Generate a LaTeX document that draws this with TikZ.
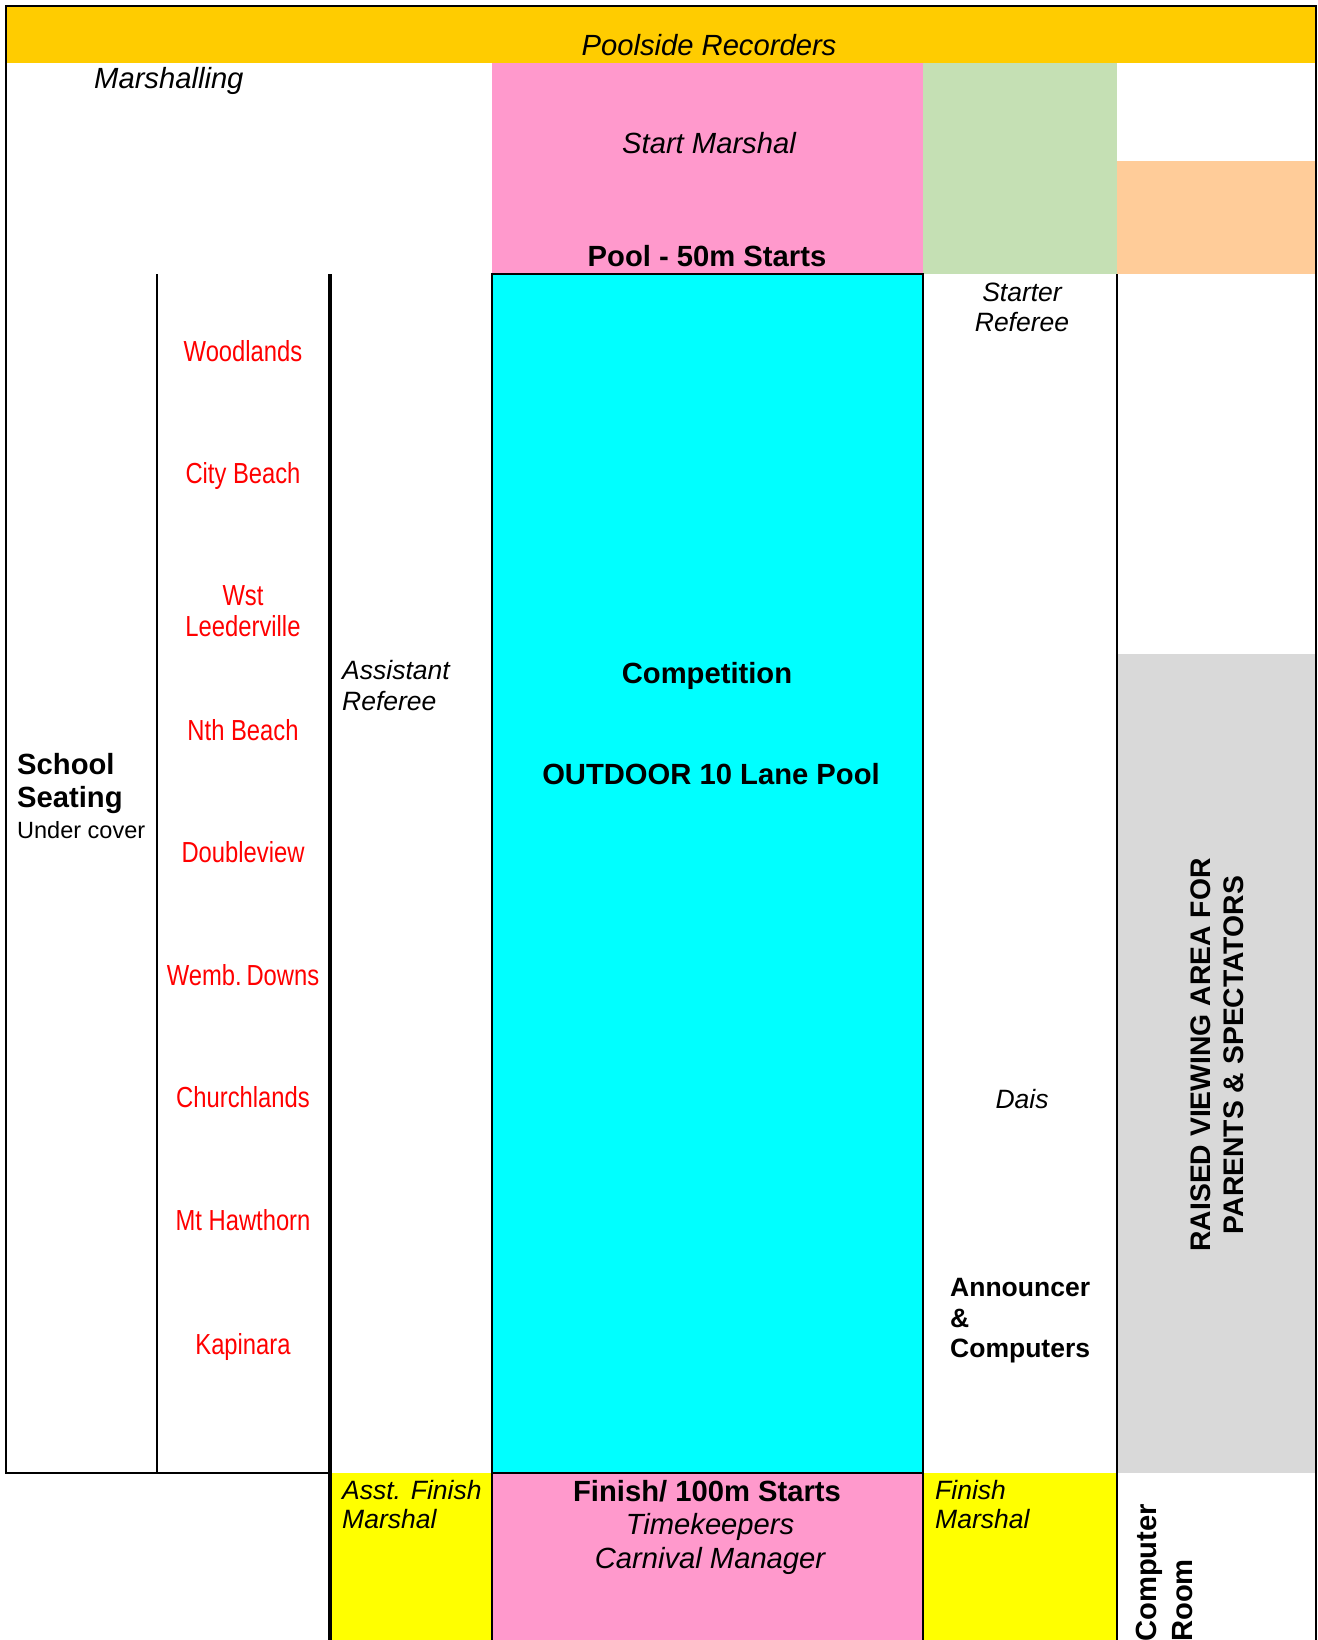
\documentclass[tikz,border=0pt]{standalone}
\usepackage{fontspec}
\setmainfont{Liberation Sans}
\newfontfamily\narrowfont[FakeStretch=0.82]{Liberation Sans}
\definecolor{recorders}{HTML}{FFCC00}
\definecolor{startpink}{HTML}{FF99CC}
\definecolor{startgreen}{HTML}{C5E0B4}
\definecolor{peach}{HTML}{FFCC99}
\definecolor{viewgrey}{HTML}{D9D9D9}
\definecolor{poolcyan}{RGB}{0,255,255}
\definecolor{finishyellow}{RGB}{255,255,0}
\definecolor{schoolred}{RGB}{255,0,0}

\begin{document}
\begin{tikzpicture}[x=1pt, y=-1pt,
  area/.style={inner sep=0pt, font=\fontsize{29.2}{34}\selectfont\itshape},
  heading/.style={inner sep=0pt, font=\fontsize{29.2}{34}\selectfont\bfseries},
  role/.style={inner sep=0pt, font=\fontsize{26.5}{30}\selectfont\itshape},
  role_bold/.style={inner sep=0pt, font=\fontsize{26.5}{30}\selectfont\bfseries},
  school/.style={inner sep=0pt, anchor=base, text=schoolred, font=\fontsize{29}{31}\selectfont\narrowfont}]
\useasboundingbox (0,0) rectangle (1317,1640);
\fill[recorders] (6,6) rectangle (1316,63);
\fill[startpink] (492,63) rectangle (923,274);
\fill[startgreen] (923,63) rectangle (1117,274);
\fill[peach] (1117,161) rectangle (1316,274);
\fill[poolcyan] (492,274) rectangle (923,1473);
\fill[viewgrey] (1117,654) rectangle (1316,1473);
\fill[finishyellow] (330,1473) rectangle (492,1640);
\fill[startpink] (492,1473) rectangle (923,1640);
\fill[finishyellow] (923,1473) rectangle (1117,1640);
\draw[line width=2.5pt] (1316,1640) -- (1316,6) -- (6,6) -- (6,1473) -- (330,1473);
\draw[line width=1.5pt] (157,274) -- (157,1473);
\draw[line width=4.5pt] (330,274) -- (330,1640);
\draw[line width=2.5pt] (492,1640) -- (492,274) -- (923,274) -- (923,1640);
\draw[line width=2.5pt] (492,1473) -- (923,1473);
\draw[line width=2.5pt] (1117,274) -- (1117,1640);
\node[area, anchor=base] (recorders) at (709,56) {Poolside Recorders};
\node[area, anchor=base west] (marshalling) at (94,89) {Marshalling};
\node[area, anchor=base] (start_marshal) at (709,154) {Start Marshal};
\node[heading, anchor=base] (starts_50m) at (707,266) {Pool - 50m Starts};
\node[role, anchor=base] (starter) at (1022,301) {Starter};
\node[role, anchor=base] (starter_ref) at (1022,331) {Referee};
\node[school] (s0) at (243,361) {Woodlands};
\node[school] (s1) at (243,483) {City Beach};
\node[school] (s2) at (243,605) {Wst};
\node[school] (s2_b) at (243,636) {Leederville};
\node[school] (s3) at (243,740) {Nth Beach};
\node[school] (s4) at (243,862) {Doubleview};
\node[school] (s5) at (243,985) {Wemb.\,Downs};
\node[school] (s6) at (243,1107) {Churchlands};
\node[school] (s7) at (243,1230) {Mt Hawthorn};
\node[school] (s8) at (243,1354) {Kapinara};
\node[heading, anchor=base west] (seating) at (17,774) {School};
\node[heading, anchor=base west] (seating_b) at (17,807) {Seating};
\node[inner sep=0pt, anchor=base west, font=\fontsize{23.5}{28}\selectfont] (cover) at (17,838) {Under cover};
\node[role, anchor=base west] (asst_ref) at (342,679) {Assistant};
\node[role, anchor=base west] (asst_ref_b) at (342,710) {Referee};
\node[heading, anchor=base] (competition) at (707,683) {Competition};
\node[heading, anchor=base] (pool) at (711,784) {OUTDOOR 10 Lane Pool};
\node[role, anchor=base] (dais) at (1022,1108) {Dais};
\node[role_bold, anchor=base west] (announcer) at (950,1296) {Announcer};
\node[role_bold, anchor=base west] (announcer_b) at (950,1327) {\&};
\node[role_bold, anchor=base west] (announcer_c) at (950,1357) {Computers};
\node[role, anchor=base west] (asst_finish) at (342,1499) {Asst. Finish};
\node[role, anchor=base west] (asst_finish_b) at (342,1528) {Marshal};
\node[heading, anchor=base] (finish) at (707,1501) {Finish/ 100m Starts};
\node[area, anchor=base] (timekeepers) at (710,1534) {Timekeepers};
\node[area, anchor=base] (manager) at (710,1568) {Carnival Manager};
\node[role, anchor=base west] (finish_marshal) at (935,1499) {Finish};
\node[role, anchor=base west] (finish_marshal_b) at (935,1528) {Marshal};
\node[heading, font=\fontsize{28.3}{34}\selectfont\bfseries, anchor=base, rotate=90] (viewing) at (1210,1055) {RAISED VIEWING AREA FOR};
\node[heading, font=\fontsize{28.3}{34}\selectfont\bfseries, anchor=base, rotate=90] (viewing_b) at (1243,1055) {PARENTS \& SPECTATORS};
\node[heading, anchor=base west, rotate=90] (computer) at (1156,1642) {Computer};
\node[heading, anchor=base west, rotate=90] (computer_b) at (1192,1642) {Room};
\end{tikzpicture}
\end{document}
